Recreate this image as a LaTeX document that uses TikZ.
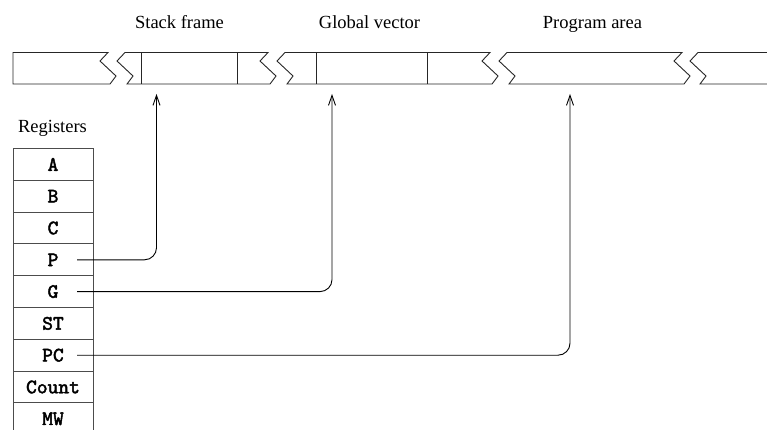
\documentclass[tikz,border=0pt]{standalone}
\usepackage{fontspec}
\setmainfont{Liberation Serif}
\newfontfamily\regfont[FakeBold=2.2]{lmmono10-regular.otf}
\usetikzlibrary{arrows.meta}
\begin{document}
\begin{tikzpicture}[x=1pt,y=-1pt,
  strip/.style={draw=black!85, line width=0.9pt, line join=miter},
  reg/.style={draw=black!70, line width=0.9pt, minimum width=80pt, minimum height=31.8pt, inner sep=0pt, font=\regfont\fontsize{20.5}{22}\selectfont},
  lab/.style={font=\fontsize{18.5}{22}\selectfont, inner sep=0pt, anchor=base},
  conn/.style={draw=black, line width=0.9pt, rounded corners=12pt, -{Straight Barb[length=10pt,width=7pt]}}]
\useasboundingbox (0,0) rectangle (767,430);
% memory strip
\draw[strip] (13,52.5) -- (108,52.5) -- (100,61) -- (116,76) -- (110,84) -- (13,84) -- cycle;
\draw[strip] (125,52.5) -- (268,52.5) -- (260,61) -- (276,76) -- (270,84) -- (127,84) -- (133,76) -- (117,61) -- cycle;
\draw[strip] (285,52.5) -- (490,52.5) -- (482,61) -- (498,76) -- (492,84) -- (287,84) -- (293,76) -- (277,61) -- cycle;
\draw[strip] (507,52.5) -- (682,52.5) -- (674,61) -- (690,76) -- (684,84) -- (509,84) -- (515,76) -- (499,61) -- cycle;
\draw[strip] (775,52.5) -- (698,52.5) -- (690,61) -- (706,76) -- (700,84) -- (775,84);
\draw[strip] (141,52.5) -- (141,84);
\draw[strip] (237,52.5) -- (237,84);
\draw[strip] (316,52.5) -- (316,84);
\draw[strip] (427,52.5) -- (427,84);
% labels
\node[lab] (sf) at (179.5,29) {Stack frame};
\node[lab] (gv) at (369.5,29) {Global vector};
\node[lab] (pa) at (592.5,29) {Program area};
\node[lab] (rg) at (52.5,133) {Registers};
% registers
\node[reg] (A) at (53,164.4) {A};
\node[reg] (B) at (53,196.2) {B};
\node[reg] (C) at (53,228.0) {C};
\node[reg] (P) at (53,259.8) {P};
\node[reg] (G) at (53,291.6) {G};
\node[reg] (ST) at (53,323.4) {ST};
\node[reg] (PC) at (53,355.2) {PC};
\node[reg] (Count) at (53,387.0) {Count};
\node[reg] (MW) at (53,418.8) {MW};
% arrow tips
\coordinate (tipSF) at (156.5,94);
\coordinate (tipGV) at (332,94);
\coordinate (tipPA) at (570,94);
\draw[conn] ([xshift=24pt]P.center) -| (tipSF);
\draw[conn] ([xshift=24pt]G.center) -| (tipGV);
\draw[conn] ([xshift=24pt]PC.center) -| (tipPA);
\end{tikzpicture}
\end{document}
